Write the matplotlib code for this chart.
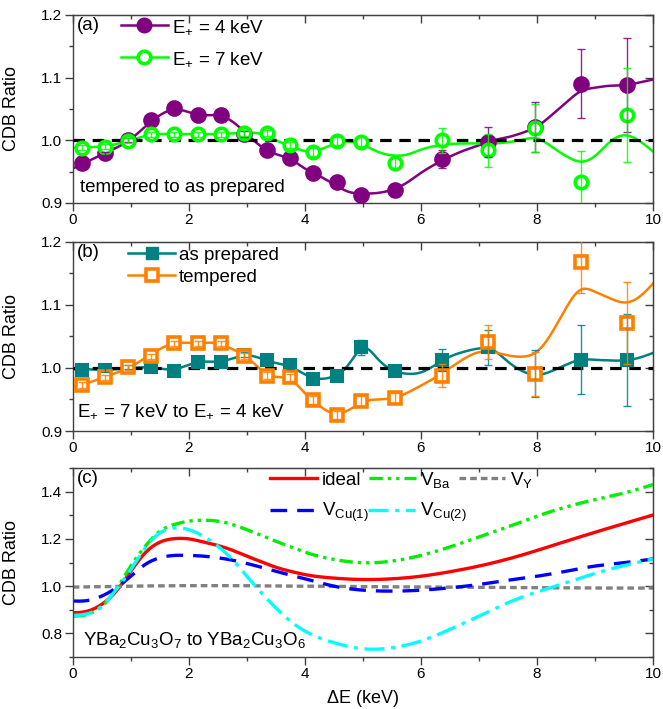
import numpy as np
import matplotlib
matplotlib.use("Agg")
import matplotlib.pyplot as plt
from matplotlib.lines import Line2D
from matplotlib.ticker import MultipleLocator, FormatStrFormatter

plt.rcParams['font.family'] = ['Liberation Sans', 'DejaVu Sans']
plt.rcParams['mathtext.fontset'] = 'custom'
plt.rcParams['mathtext.rm'] = 'Liberation Sans'
plt.rcParams['mathtext.it'] = 'Liberation Sans:italic'
plt.rcParams['mathtext.bf'] = 'Liberation Sans:bold'

# ---------------- data ----------------
x_pts = [0.165, 0.56, 0.96, 1.35, 1.75, 2.15, 2.55, 2.95, 3.35, 3.74,
         4.14, 4.55, 4.96, 5.56, 6.36, 7.16, 7.97, 8.76, 9.55]

# panel (a): tempered to as prepared
a_4kev = [0.964, 0.979, 1.000, 1.032, 1.051, 1.040, 1.040, 1.010, 0.984, 0.972,
          0.948, 0.933, 0.913, 0.920, 0.970, 0.998, 1.021, 1.090, 1.089]
a_4kev_err = [0.003, 0.003, 0.003, 0.003, 0.004, 0.004, 0.004, 0.005, 0.005, 0.006,
              0.006, 0.007, 0.007, 0.009, 0.014, 0.024, 0.040, 0.055, 0.075]
a_7kev = [0.988, 0.990, 0.999, 1.010, 1.010, 1.010, 1.010, 1.012, 1.012, 0.992,
          0.981, 0.999, 0.998, 0.964, 1.000, 0.984, 1.020, 0.933, 1.040]
a_7kev_err = [0.004, 0.004, 0.004, 0.004, 0.004, 0.004, 0.004, 0.005, 0.005, 0.005,
              0.006, 0.006, 0.007, 0.008, 0.020, 0.026, 0.038, 0.050, 0.075]

x_fit = [0.0, 0.25, 0.5, 0.75, 1.0, 1.25, 1.5, 1.75, 2.0, 2.25, 2.5, 2.75, 3.0,
         3.25, 3.5, 3.75, 4.0, 4.25, 4.5, 4.75, 5.0, 5.25, 5.5, 5.75, 6.0, 6.25,
         6.5, 6.75, 7.0, 7.25, 7.5, 7.75, 8.0, 8.25, 8.5, 8.75, 9.0, 9.25, 9.5,
         9.75, 10.0]
a_4kev_fit = [0.955, 0.966, 0.977, 0.988, 1.002, 1.022, 1.040, 1.049, 1.045, 1.040,
              1.040, 1.030, 1.010, 0.990, 0.978, 0.970, 0.955, 0.943, 0.930, 0.918,
              0.915, 0.916, 0.921, 0.932, 0.948, 0.962, 0.974, 0.984, 0.992, 1.000,
              1.005, 1.012, 1.022, 1.040, 1.060, 1.078, 1.084, 1.087, 1.088, 1.092,
              1.097]
a_7kev_fit = [0.988, 0.989, 0.990, 0.994, 1.000, 1.007, 1.010, 1.010, 1.010, 1.010,
              1.010, 1.011, 1.012, 1.010, 1.000, 0.991, 0.983, 0.985, 0.994, 0.998,
              0.993, 0.982, 0.976, 0.977, 0.985, 0.991, 0.994, 0.995, 0.995, 0.995,
              0.997, 1.001, 1.003, 0.990, 0.975, 0.966, 0.975, 0.997, 1.008, 1.000,
              0.982]

# panel (b): E+ = 7 keV to E+ = 4 keV
b_asprep = [0.997, 0.997, 1.001, 1.001, 0.996, 1.009, 1.009, 1.021, 1.013, 1.004,
            0.983, 0.988, 1.033, 0.996, 1.013, 1.033, 0.991, 1.013, 1.013]
b_asprep_err = [0.003, 0.003, 0.003, 0.003, 0.003, 0.004, 0.004, 0.004, 0.004, 0.005,
                0.005, 0.006, 0.012, 0.008, 0.017, 0.028, 0.037, 0.055, 0.073]
b_temp = [0.973, 0.985, 1.001, 1.019, 1.039, 1.039, 1.039, 1.019, 0.988, 0.985,
          0.949, 0.925, 0.947, 0.952, 0.988, 1.041, 0.991, 1.169, 1.071]
b_temp_err = [0.004, 0.004, 0.004, 0.004, 0.004, 0.004, 0.004, 0.005, 0.005, 0.005,
              0.006, 0.006, 0.008, 0.008, 0.018, 0.027, 0.035, 0.050, 0.065]
b_asprep_fit = [0.998, 0.998, 0.997, 0.998, 1.000, 1.001, 0.999, 0.998, 1.005, 1.010,
                1.010, 1.015, 1.020, 1.015, 1.008, 1.002, 0.990, 0.983, 0.987, 1.005,
                1.032, 1.015, 0.997, 0.991, 0.993, 1.005, 1.018, 1.026, 1.031, 1.028,
                1.010, 0.995, 0.989, 0.995, 1.005, 1.013, 1.013, 1.012, 1.012, 1.016,
                1.024]
b_temp_fit = [0.970, 0.976, 0.984, 0.992, 1.002, 1.016, 1.030, 1.039, 1.040, 1.040,
              1.039, 1.030, 1.017, 0.997, 0.986, 0.982, 0.960, 0.940, 0.928, 0.933,
              0.946, 0.950, 0.952, 0.960, 0.972, 0.985, 1.000, 1.015, 1.025, 1.025,
              1.020, 1.018, 1.026, 1.055, 1.095, 1.124, 1.121, 1.111, 1.104, 1.112,
              1.134]

# panel (c): theory, YBa2Cu3O7 to YBa2Cu3O6
x_c = [0.0, 0.25, 0.5, 0.75, 1.0, 1.25, 1.5, 1.75, 2.0, 2.25, 2.5, 2.75, 3.0,
       3.25, 3.5, 3.75, 4.0, 4.5, 5.0, 5.5, 6.0, 6.5, 7.0, 7.5, 8.0, 8.5, 9.0,
       9.5, 10.0]
c_ideal = [0.887, 0.894, 0.923, 0.979, 1.063, 1.141, 1.186, 1.201, 1.200, 1.187,
           1.172, 1.152, 1.127, 1.103, 1.080, 1.063, 1.049, 1.034, 1.028, 1.031,
           1.042, 1.061, 1.085, 1.115, 1.151, 1.190, 1.228, 1.265, 1.301]
c_vba = [0.873, 0.880, 0.915, 0.986, 1.085, 1.169, 1.232, 1.261, 1.275, 1.279,
         1.275, 1.261, 1.239, 1.215, 1.190, 1.167, 1.144, 1.113, 1.099, 1.106,
         1.130, 1.166, 1.208, 1.251, 1.296, 1.335, 1.366, 1.394, 1.430]
c_vy = [0.996, 0.997, 0.998, 0.999, 1.000, 1.001, 1.001, 1.002, 1.002, 1.002,
        1.002, 1.002, 1.002, 1.001, 1.001, 1.000, 1.000, 0.999, 0.998, 0.997,
        0.996, 0.996, 0.995, 0.994, 0.993, 0.993, 0.992, 0.992, 0.992]
c_vcu1 = [0.937, 0.939, 0.958, 0.993, 1.042, 1.092, 1.120, 1.130, 1.130, 1.127,
          1.120, 1.110, 1.096, 1.080, 1.063, 1.047, 1.031, 1.000, 0.983, 0.979,
          0.983, 0.993, 1.007, 1.025, 1.042, 1.063, 1.085, 1.099, 1.115]
c_vcu2 = [0.876, 0.883, 0.915, 0.986, 1.070, 1.162, 1.225, 1.246, 1.239, 1.211,
          1.169, 1.113, 1.042, 0.972, 0.908, 0.852, 0.810, 0.761, 0.735, 0.739,
          0.768, 0.817, 0.873, 0.930, 0.975, 1.014, 1.054, 1.087, 1.115]

xticks = [0, 2, 4, 6, 8, 10]

PURPLE = '#800080'
LIME = '#00ff00'
TEAL = '#008080'
ORANGE = '#ff8000'


def smooth(x, y, n=500):
    """Natural cubic spline through (x, y) for smooth rendering."""
    x = np.asarray(x, float)
    y = np.asarray(y, float)
    nk = len(x)
    h = np.diff(x)
    A = np.zeros((nk, nk))
    r = np.zeros(nk)
    A[0, 0] = A[-1, -1] = 1
    for i in range(1, nk - 1):
        A[i, i - 1] = h[i - 1]
        A[i, i] = 2 * (h[i - 1] + h[i])
        A[i, i + 1] = h[i]
        r[i] = 3 * ((y[i + 1] - y[i]) / h[i] - (y[i] - y[i - 1]) / h[i - 1])
    c = np.linalg.solve(A, r)
    b = (y[1:] - y[:-1]) / h - h * (2 * c[:-1] + c[1:]) / 3
    d = (c[1:] - c[:-1]) / (3 * h)
    xs = np.linspace(x[0], x[-1], n)
    idx = np.clip(np.searchsorted(x, xs) - 1, 0, nk - 2)
    dx = xs - x[idx]
    return xs, y[idx] + b[idx] * dx + c[idx] * dx ** 2 + d[idx] * dx ** 3


SPINE = '#404040'
FS_TICK = 11
FS_TEXT = 13.5


def style_axes(ax, ymin, ymax, ymaj, ymin_step, yfmt):
    ax.set_xlim(0, 10)
    ax.set_ylim(ymin, ymax)
    ax.set_xticks(xticks)
    ax.xaxis.set_minor_locator(MultipleLocator(1))
    ax.yaxis.set_major_locator(MultipleLocator(ymaj))
    ax.yaxis.set_minor_locator(MultipleLocator(ymin_step))
    ax.yaxis.set_major_formatter(FormatStrFormatter(yfmt))
    for s in ax.spines.values():
        s.set_color(SPINE)
        s.set_linewidth(1.0)
    ax.tick_params(which='major', direction='out', length=5.5, width=1.0,
                   color=SPINE, labelsize=FS_TICK, pad=2)
    ax.tick_params(which='minor', direction='out', length=3, width=1.0, color=SPINE)
    # mirrored ticks pointing inward on top / right
    sx = ax.secondary_xaxis('top')
    sx.set_xticks(xticks)
    sx.xaxis.set_minor_locator(MultipleLocator(1))
    sx.tick_params(which='major', direction='in', length=5.5, width=1.0,
                   color=SPINE, labeltop=False)
    sx.tick_params(which='minor', direction='in', length=3, width=1.0, color=SPINE)
    sx.spines['top'].set_color(SPINE)
    sy = ax.secondary_yaxis('right')
    sy.yaxis.set_major_locator(MultipleLocator(ymaj))
    sy.yaxis.set_minor_locator(MultipleLocator(ymin_step))
    sy.tick_params(which='major', direction='in', length=5.5, width=1.0,
                   color=SPINE, labelright=False)
    sy.tick_params(which='minor', direction='in', length=3, width=1.0, color=SPINE)
    sy.spines['right'].set_color(SPINE)
    ax.set_ylabel('CDB Ratio', fontsize=13)
    ax.yaxis.set_label_coords(-0.091, 0.5)


def exp_series(ax, xf, yf, xp, yp, ep, color, marker, filled, ms, mew):
    xs, ys = smooth(xf, yf)
    ax.plot(xs, ys, color=color, lw=1.8, zorder=2)
    ax.plot(xp, yp, ls='none', marker=marker, ms=ms,
            mfc=color if filled else 'white', mec=color, mew=mew, zorder=4)
    ax.errorbar(xp, yp, yerr=ep, fmt='none', ecolor=color, elinewidth=1.0,
                capsize=3, capthick=1.0, zorder=5, alpha=0.85)


fig = plt.figure(figsize=(6.63, 7.09), dpi=100)
L, W = 0.1097, 0.8753
ax_a = fig.add_axes([L, 0.7137, W, 0.2652])
ax_b = fig.add_axes([L, 0.3921, W, 0.2666])
ax_c = fig.add_axes([L, 0.0733, W, 0.2666])

dash_kw = dict(color='black', lw=2.3, ls=(0, (3.6, 2.4)), zorder=3)

# ---- panel (a)
style_axes(ax_a, 0.9, 1.2, 0.1, 0.05, '%.1f')
ax_a.axhline(1.0, **dash_kw)
exp_series(ax_a, x_fit, a_4kev_fit, x_pts, a_4kev, a_4kev_err, PURPLE, 'o', True, 10.5, 1.5)
exp_series(ax_a, x_fit, a_7kev_fit, x_pts, a_7kev, a_7kev_err, LIME, 'o', False, 9.0, 2.6)
h_a = [Line2D([], [], color=PURPLE, lw=1.8, marker='o', ms=10.5, mfc=PURPLE, mec=PURPLE),
       Line2D([], [], color=LIME, lw=1.8, marker='o', ms=9.0, mfc='white', mec=LIME, mew=2.6)]
ax_a.legend(h_a, [r'E$_{+}$ = 4 keV', r'E$_{+}$ = 7 keV'], loc='upper left',
            bbox_to_anchor=(0.078, 1.0), frameon=False, fontsize=FS_TEXT,
            handlelength=2.5, handletextpad=0.25, labelspacing=0.75, borderpad=0.15,
            borderaxespad=0)
ax_a.text(0.008, 0.945, '(a)', transform=ax_a.transAxes, fontsize=FS_TEXT, va='center', ha='left')
ax_a.text(0.012, 0.08, 'tempered to as prepared', transform=ax_a.transAxes,
          fontsize=FS_TEXT, va='center', ha='left')

# ---- panel (b)
style_axes(ax_b, 0.9, 1.2, 0.1, 0.05, '%.1f')
ax_b.axhline(1.0, **dash_kw)
exp_series(ax_b, x_fit, b_asprep_fit, x_pts, b_asprep, b_asprep_err, TEAL, 's', True, 9.0, 1.5)
exp_series(ax_b, x_fit, b_temp_fit, x_pts, b_temp, b_temp_err, ORANGE, 's', False, 8.5, 2.6)
h_b = [Line2D([], [], color=TEAL, lw=1.8, marker='s', ms=9.0, mfc=TEAL, mec=TEAL),
       Line2D([], [], color=ORANGE, lw=1.8, marker='s', ms=8.5, mfc='white', mec=ORANGE, mew=2.6)]
ax_b.legend(h_b, ['as prepared', 'tempered'], loc='upper left',
            bbox_to_anchor=(0.088, 1.0), frameon=False, fontsize=FS_TEXT,
            handlelength=2.5, handletextpad=0.2, labelspacing=0.25, borderpad=0.25,
            borderaxespad=0)
ax_b.text(0.008, 0.945, '(b)', transform=ax_b.transAxes, fontsize=FS_TEXT, va='center', ha='left')
ax_b.text(0.008, 0.105, r'E$_{+}$ = 7 keV to E$_{+}$ = 4 keV', transform=ax_b.transAxes,
          fontsize=FS_TEXT, va='center', ha='left')

# ---- panel (c)
style_axes(ax_c, 0.7, 1.5, 0.2, 0.1, '%.1f')
lc = []
for yv, col, ls in [(c_ideal, '#ff0000', '-'),
                    (c_vba, '#00ee00', (0, (4, 1.5, 1, 1.5, 1, 1.5))),
                    (c_vy, '#808080', (0, (2, 1.2))),
                    (c_vcu1, '#0000ff', (0, (5, 3))),
                    (c_vcu2, '#00ffff', (0, (6, 2, 1.2, 2)))]:
    xs, ys = smooth(x_c, yv)
    ln, = ax_c.plot(xs, ys, color=col, lw=2.4, ls=ls)
    lc.append(ln)
lab_c = ['ideal', r'V$_{\mathrm{Ba}}$', r'V$_{\mathrm{Y}}$', r'V$_{\mathrm{Cu(1)}}$', r'V$_{\mathrm{Cu(2)}}$']
leg_kw = dict(loc='upper left', frameon=False, fontsize=FS_TEXT, handlelength=2.5,
              handletextpad=0.25, borderpad=0.1, borderaxespad=0)
leg1 = ax_c.legend([lc[0], lc[1], lc[2]], lab_c[:3], ncol=3, columnspacing=0.4,
                   bbox_to_anchor=(0.337, 1.0), **leg_kw)
ax_c.add_artist(leg1)
ax_c.legend([lc[3], lc[4]], lab_c[3:], ncol=2, columnspacing=0.0,
            bbox_to_anchor=(0.337, 0.835), **leg_kw)
ax_c.text(0.008, 0.945, '(c)', transform=ax_c.transAxes, fontsize=FS_TEXT, va='center', ha='left')
ax_c.text(0.018, 0.09, r'YBa$_2$Cu$_3$O$_7$ to YBa$_2$Cu$_3$O$_6$', transform=ax_c.transAxes,
          fontsize=FS_TEXT, va='center', ha='left')
ax_c.set_xlabel(r'$\Delta$E (keV)', fontsize=13)
ax_c.xaxis.set_label_coords(0.5, -0.165)

fig.savefig('out.png', dpi=100)
